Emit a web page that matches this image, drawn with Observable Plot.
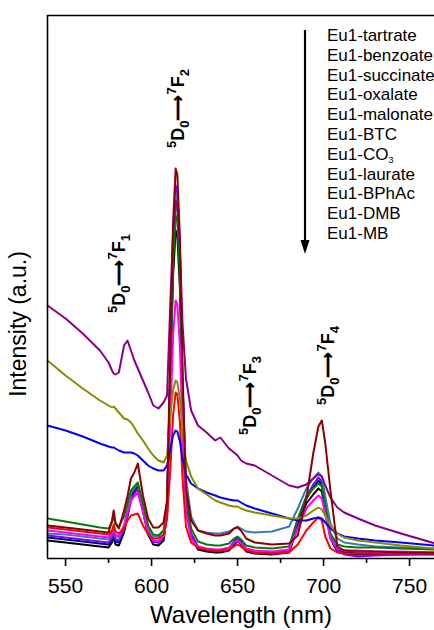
<!DOCTYPE html>
<html><head><meta charset="utf-8">
<script src="https://cdn.jsdelivr.net/npm/d3@7"></script>
<script src="https://cdn.jsdelivr.net/npm/@observablehq/plot@0.6"></script>
<style>
body{margin:0;background:#fff;font-family:Arial,"Liberation Sans",sans-serif;}
#wrap{position:relative;width:434px;height:630px;overflow:hidden;}
#legend{position:absolute;left:327px;top:26px;font-size:17px;line-height:19.8px;color:#000;white-space:nowrap;}
#legend sub{font-size:9px;vertical-align:-3px;line-height:0;}
#arrow{position:absolute;left:0;top:0;pointer-events:none;}
</style></head><body><div id="wrap"></div>
<script>
// ---- data ----
const wavelength = [539.5,550,560,570,575,577,578,579,581,584,586,588,590,592,595,598,601,604,607,609,611,612.5,614,615,616.5,618,620,623,627,632,637,640,645,648,650,652,655,660,670,680,685,690,694,697,699,701,704,708,712,720,730,745,765];
const black   = [18,16,14,12,11,16,22,14,13,26,42,58,66,71,47,24,14,13,18,44,180,282,328,323,269,157,59,22,9,7,6,6,8,14,18,14,7,5,4,6,32,55,64,70,67,48,20,7,5,4,4,4,4];
const navy    = [21,19,17,15,14,19,26,17,16,30,45,62,68,73,50,27,17,16,21,48,197,308,358,353,294,172,64,24,11,9,8,8,10,17,21,17,9,6,5,8,36,60,71,78,74,52,22,9,6,5,5,5,5];
const violet  = [23,21,19,17,16,21,28,19,18,30,44,60,65,70,48,26,17,16,22,50,205,321,373,367,306,179,67,25,12,9,8,8,10,16,20,16,9,6,5,8,38,62,74,81,77,55,22,8,4,2,3,4,5];
const steel   = [25,24,22,20,19,24,31,22,21,33,48,65,70,75,52,30,22,22,28,55,200,312,363,358,298,174,80,42,28,26,25,25,27,30,32,30,27,26,27,32,50,70,80,86,82,62,35,20,16,14,12,11,10];
const green   = [40,37,34,31,30,36,44,34,32,42,55,68,72,76,55,33,24,23,28,48,189,295,343,338,281,165,62,30,17,14,13,13,15,20,22,19,13,11,10,12,40,62,70,75,72,52,25,14,12,11,11,10,9];
const magenta = [28,26,24,22,21,26,32,24,22,33,46,58,62,66,46,26,18,17,22,42,142,222,258,254,212,124,46,20,12,10,9,9,11,16,18,15,10,8,7,9,30,50,58,63,60,44,20,10,8,8,7,7,6];
const red     = [31,29,27,25,24,28,34,27,25,30,38,43,44,45,33,24,20,20,24,40,91,143,166,164,136,80,32,16,11,9,8,8,9,12,14,12,8,6,5,6,14,28,36,41,38,22,10,6,5,5,5,5,5];
const blue    = [133,128,122,115,112,111,111,110,108,106,106,106,105,103,98,93,90,88,88,93,110,123,128,127,117,100,84,75,70,66,63,61,59,58,58,56,53,50,45,40,38,38,40,41,40,36,30,25,22,20,18,16,13];
const olive   = [198,183,170,158,153,151,152,150,146,140,139,136,131,125,118,110,103,98,96,103,145,168,178,176,160,128,98,82,70,64,58,56,53,52,52,50,48,46,43,40,40,43,48,51,49,43,33,25,21,18,16,13,10];
const purple  = [253,240,225,208,196,188,185,184,186,213,218,208,198,190,178,166,153,150,156,163,260,325,358,354,310,235,180,148,133,126,118,121,110,106,103,98,95,93,83,73,71,74,80,84,82,73,61,51,46,40,33,25,15];
const wine    = [33,31,29,27,26,38,48,36,30,48,62,80,86,95,63,40,31,31,36,58,215,335,390,384,320,187,70,38,28,25,23,23,25,30,31,28,20,16,14,15,23,60,105,132,138,115,68,12,8,7,7,6,6];

const seriesKeys   = ["black","navy","violet","steel","green","magenta","red","blue","olive","purple","wine"];
const seriesValues = [black, navy, violet, steel, green, magenta, red, blue, olive, purple, wine];
const seriesColors = ["#000000","#000080","#8000FF","#3C78B4","#008000","#FF00FF","#FF0000","#0000FF","#8B8B00","#8B008B","#8B0000"];

const legendNames = ["Eu1-tartrate","Eu1-benzoate","Eu1-succinate","Eu1-oxalate","Eu1-malonate","Eu1-BTC","Eu1-CO3","Eu1-laurate","Eu1-BPhAc","Eu1-DMB","Eu1-MB"];

const xTicks = [550,600,650,700,750];
const xMinorTicks = [575,625,675,725];

const transitionLabels = ["5D0→7F1","5D0→7F2","5D0→7F3","5D0→7F4"];
const transitionWavelength = [581, 615.5, 657.5, 703];
const transitionHeight = [285, 450, 163, 193];

// ---- tables ----
const table = [];
seriesKeys.forEach((k, si) => wavelength.forEach((w, i) => table.push({wl: w, I: seriesValues[si][i], s: k})));
const annot = transitionLabels.map((t, i) => ({label: t, wl: transitionWavelength[i], h: transitionHeight[i]}));

const font = "Arial, 'Liberation Sans', sans-serif";
const plot = Plot.plot({
  width: 434, height: 630,
  marginTop: 15, marginBottom: 72, marginLeft: 47, marginRight: 0,
  x: {domain: [539.5, 764.5]},
  y: {domain: [0, 543], axis: null},
  color: {domain: seriesKeys, range: seriesColors},
  style: {fontFamily: font, background: "transparent", overflow: "visible"},
  marks: [
    Plot.line(table, {x: "wl", y: "I", z: "s", stroke: "s", strokeWidth: 2}),
    Plot.ruleX([539.5], {strokeWidth: 1.6}),
    Plot.ruleY([0], {strokeWidth: 1.6}),
    Plot.ruleY([543], {strokeWidth: 1.6}),
    Plot.axisX(xTicks, {tickSize: 8, tickPadding: 12, fontSize: 21, label: null, strokeWidth: 1.6}),
    Plot.axisX(xMinorTicks, {tickSize: 5, tickFormat: () => "", label: null, strokeWidth: 1.6}),
    Plot.text(["Wavelength (nm)"], {frameAnchor: "bottom", dy: 64, fontSize: 24}),
    Plot.text(["Intensity (a.u.)"], {frameAnchor: "left", textAnchor: "middle", rotate: -90, dx: -29, dy: 37, fontSize: 23}),
    Plot.text(annot, {x: "wl", y: "h", text: "label", rotate: -90, fontSize: 18, fontWeight: "bold", className: "annot"})
  ]
});

// sub/superscripts in the transition labels
d3.select(plot).selectAll(".annot text").each(function() {
  const el = d3.select(this);
  const lbl = el.text();
  const parts = [[lbl[0],"sup"],[lbl[1],""],[lbl[2],"sub"],["\u27F6",""],[lbl[4],"sup"],[lbl[5],""],[lbl[6],"sub"]];
  el.text(null);
  let cur = 0;
  for (const [t, k] of parts) {
    const target = k === "sup" ? -8 : k === "sub" ? 5 : 0;
    const ts = el.append("tspan").attr("dy", target - cur).text(t);
    if (k) ts.attr("font-size", 13);
    cur = target;
  }
});

const wrap = document.getElementById("wrap");
wrap.appendChild(plot);

// legend list with arrow
const leg = document.createElement("div");
leg.id = "legend";
leg.innerHTML = legendNames.map(n => "<div>" + n.replace(/CO3$/, "CO<sub>3</sub>") + "</div>").join("");
wrap.appendChild(leg);
const ns = "http://www.w3.org/2000/svg";
const arr = document.createElementNS(ns, "svg");
arr.setAttribute("id", "arrow"); arr.setAttribute("width", 434); arr.setAttribute("height", 630);
arr.innerHTML = '<line x1="305" y1="30" x2="305" y2="242" stroke="#000" stroke-width="2.2"/><path d="M300.5,240 L309.5,240 L305,254 Z" fill="#000"/>';
wrap.appendChild(arr);
</script></body></html>
